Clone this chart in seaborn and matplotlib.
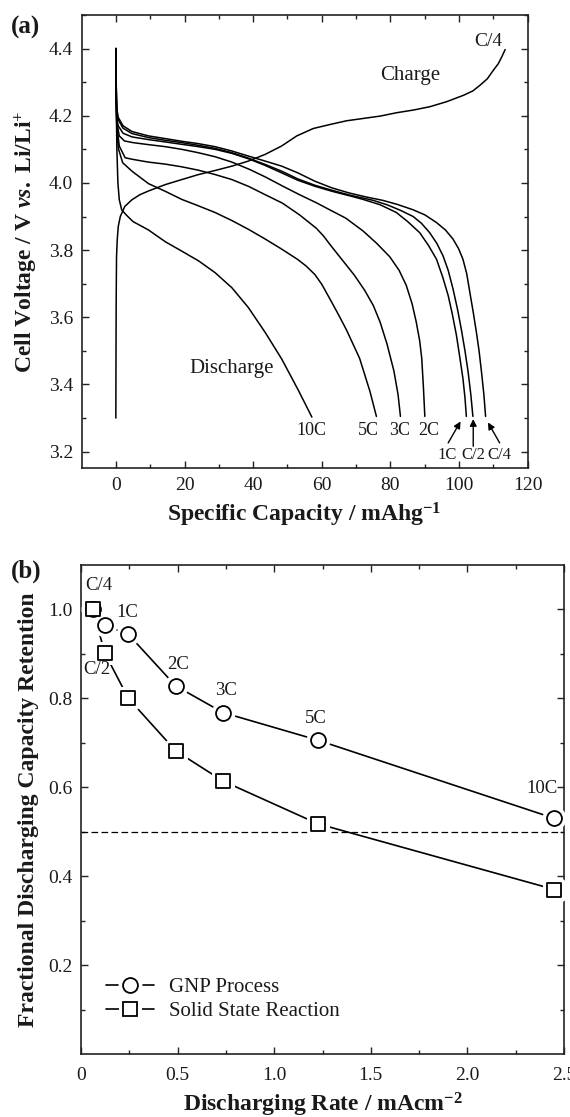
import numpy as np
import pandas as pd
import matplotlib
matplotlib.use("Agg")
import matplotlib.pyplot as plt
from matplotlib.lines import Line2D
from matplotlib.legend_handler import HandlerTuple
from matplotlib.ticker import MultipleLocator, FixedLocator, FixedFormatter
import seaborn as sns

# ---- panel (a): charge / discharge curves (specific capacity, voltage) ----
charge_cap = [0, 0.05, 0.1, 0.2, 0.4, 0.7, 1.3, 2.6, 4.7, 7, 9.5, 14.4, 19.2, 24.1, 28.9,
              33.8, 38.6, 43.5, 48.3, 52.7, 57.5, 62.4, 67.2, 72.1, 77, 81.8, 86.7, 91.5,
              96.4, 101.3, 104, 106.1, 108.2, 110, 111.4, 112.4, 113.4]
charge_v = [3.3, 3.5, 3.65, 3.78, 3.83, 3.87, 3.9, 3.93, 3.95, 3.965, 3.976, 3.995, 4.01,
            4.025, 4.037, 4.05, 4.065, 4.085, 4.11, 4.14, 4.162, 4.174, 4.185, 4.192, 4.199,
            4.209, 4.217, 4.227, 4.242, 4.261, 4.274, 4.291, 4.31, 4.336, 4.355, 4.375, 4.397]

c4_cap = [0, 0.1, 0.3, 0.7, 2.1, 4.7, 9.5, 14.4, 19.2, 24, 28.9, 33.8, 38.6, 43.5, 48.3, 53,
          58, 63, 68, 73, 77.8, 82, 86.6, 90, 93.4, 96, 98.2, 99.8, 101.1, 102.2, 103.1,
          104.1, 105, 105.8, 106.5, 107.2, 107.7]
c4_v = [4.4, 4.3, 4.22, 4.195, 4.17, 4.153, 4.14, 4.132, 4.124, 4.117, 4.108, 4.095, 4.08,
        4.065, 4.05, 4.03, 4.005, 3.985, 3.97, 3.958, 3.948, 3.936, 3.92, 3.905, 3.882, 3.86,
        3.833, 3.805, 3.773, 3.73, 3.675, 3.615, 3.557, 3.5, 3.438, 3.37, 3.305]

c2_cap = [0, 0.1, 0.3, 0.7, 2.1, 4.7, 9.5, 14.4, 19.2, 24, 28.9, 33.8, 38.6, 43.5, 48.3, 53,
          58, 63, 68, 72, 75, 79, 83, 86.6, 89, 91.4, 93.5, 95.3, 96.8, 98.2, 99.5, 100.6,
          101.7, 102.6, 103.4, 104]
c2_v = [4.4, 4.29, 4.21, 4.188, 4.163, 4.147, 4.135, 4.127, 4.12, 4.112, 4.103, 4.09, 4.074,
        4.055, 4.035, 4.012, 3.993, 3.978, 3.964, 3.955, 3.948, 3.935, 3.918, 3.9, 3.88,
        3.852, 3.82, 3.783, 3.74, 3.685, 3.625, 3.566, 3.5, 3.438, 3.37, 3.305]

c1_cap = [0, 0.1, 0.3, 0.7, 2.1, 4.7, 9.5, 14.4, 19.2, 24, 28.9, 33.8, 38.6, 43.5, 48.3, 53,
          58, 63, 68, 72, 77, 81.7, 85, 88.5, 91, 93.4, 95.2, 96.8, 98, 99.2, 100.2, 101.1,
          101.7, 102.1]
c1_v = [4.4, 4.28, 4.19, 4.17, 4.148, 4.137, 4.129, 4.122, 4.115, 4.108, 4.1, 4.088, 4.072,
        4.052, 4.03, 4.008, 3.99, 3.975, 3.962, 3.951, 3.935, 3.912, 3.885, 3.852, 3.815,
        3.773, 3.72, 3.665, 3.61, 3.547, 3.48, 3.418, 3.36, 3.305]

c2c_cap = [0, 0.1, 0.3, 1, 2.5, 5, 9.5, 14.4, 19.2, 24, 28.9, 33.8, 39, 43.5, 48.7, 53.5,
           58.4, 62.3, 67, 72, 76, 79.8, 82.5, 84.6, 86.3, 87.5, 88.5, 89.1, 89.6, 90]
c2c_v = [4.4, 4.25, 4.18, 4.14, 4.125, 4.12, 4.114, 4.108, 4.1, 4.09, 4.078, 4.062, 4.04,
         4.018, 3.99, 3.965, 3.941, 3.92, 3.895, 3.857, 3.82, 3.78, 3.74, 3.695, 3.64,
         3.586, 3.53, 3.478, 3.39, 3.305]

c3c_cap = [0, 0.1, 0.3, 1, 2.7, 5, 9.5, 14.4, 19.2, 24, 28.9, 33.8, 38.6, 43.5, 48.5, 53.5,
           58.4, 60.5, 62.5, 66, 69.5, 72.5, 75, 77, 79, 81, 82.2, 82.9]
c3c_v = [4.4, 4.25, 4.17, 4.11, 4.075, 4.07, 4.062, 4.056, 4.048, 4.038, 4.025, 4.01, 3.99,
         3.965, 3.94, 3.905, 3.865, 3.842, 3.815, 3.77, 3.725, 3.68, 3.635, 3.585, 3.52,
         3.44, 3.37, 3.305]

c5c_cap = [0, 0.1, 0.3, 0.8, 2, 4.7, 9.5, 14.4, 19.2, 24, 28.9, 33.8, 38.6, 43.5, 48.3, 53,
           55.5, 58, 60, 62.5, 65, 67.2, 71, 74, 75.9]
c5c_v = [4.4, 4.25, 4.15, 4.1, 4.06, 4.035, 3.998, 3.975, 3.951, 3.932, 3.912, 3.888, 3.862,
         3.833, 3.803, 3.772, 3.752, 3.727, 3.698, 3.652, 3.605, 3.562, 3.478, 3.38, 3.305]

c10c_cap = [0, 0.1, 0.3, 0.6, 1.0, 1.7, 3, 5, 9.5, 14.4, 19.2, 24.1, 28.9, 33.8, 38.6, 43.5,
            48.3, 53.2, 57.1]
c10c_v = [4.4, 4.25, 4.1, 4.0, 3.95, 3.92, 3.905, 3.885, 3.86, 3.825, 3.797, 3.768, 3.733,
          3.688, 3.629, 3.555, 3.476, 3.382, 3.303]

# ---- panel (b): capacity retention vs discharge rate ----
rate_labels = ["C/4", "C/2", "1C", "2C", "3C", "5C", "10C"]
rates = [0.0615, 0.123, 0.245, 0.49, 0.735, 1.225, 2.45]
gnp_retention = [1.0, 0.964, 0.944, 0.828, 0.768, 0.706, 0.530]
ssr_retention = [1.0, 0.902, 0.800, 0.682, 0.614, 0.518, 0.370]

sns.set_style("ticks")
plt.rcParams["font.family"] = ["Liberation Serif", "DejaVu Serif"]
plt.rcParams["mathtext.fontset"] = "custom"
plt.rcParams["mathtext.rm"] = "Liberation Serif:bold"
plt.rcParams["mathtext.it"] = "Liberation Serif:bold:italic"
plt.rcParams["mathtext.bf"] = "Liberation Serif:bold"
plt.rcParams["mathtext.default"] = "rm"

TXT = "#1a1a1a"

curves = {"charge": (charge_cap, charge_v), "C/4": (c4_cap, c4_v), "C/2": (c2_cap, c2_v),
          "1C": (c1_cap, c1_v), "2C": (c2c_cap, c2c_v), "3C": (c3c_cap, c3c_v),
          "5C": (c5c_cap, c5c_v), "10C": (c10c_cap, c10c_v)}
df_a = pd.concat([pd.DataFrame({"capacity": c, "voltage": v, "curve": k})
                  for k, (c, v) in curves.items()], ignore_index=True)

fig = plt.figure(figsize=(5.7, 11.17), dpi=100)
ax1 = fig.add_axes([0.143, 0.5806, 0.783, 0.406])
ax2 = fig.add_axes([0.1421, 0.0564, 0.8474, 0.4378])


def style_axes(ax):
    ax.tick_params(which="both", direction="in", top=True, right=True, width=1.0,
                   colors="#222222", labelsize=14, pad=6)
    ax.tick_params(which="major", length=5)
    ax.tick_params(which="minor", length=3)
    for s in ax.spines.values():
        s.set_linewidth(1.2)
        s.set_color("#222222")
    for lab in ax.get_xticklabels() + ax.get_yticklabels():
        lab.set_color(TXT)


sns.lineplot(data=df_a, x="capacity", y="voltage", units="curve", estimator=None,
             sort=False, color="black", lw=1.1, ax=ax1, legend=False)
ax1.set_xlim(-10, 120)
ax1.set_ylim(3.15, 4.5)
ax1.xaxis.set_major_locator(FixedLocator(list(range(0, 121, 20))))
ax1.xaxis.set_minor_locator(FixedLocator(list(range(10, 120, 20))))
ax1.yaxis.set_major_locator(FixedLocator([3.2, 3.4, 3.6, 3.8, 4.0, 4.2, 4.4]))
ax1.yaxis.set_major_formatter(FixedFormatter(["3.2", "3.4", "3.6", "3.8", "4.0", "4.2", "4.4"]))
ax1.yaxis.set_minor_locator(MultipleLocator(0.1))
style_axes(ax1)
ax1.set_xlabel(r"Specific Capacity / mAhg$^{-1}$", fontsize=17, fontweight="bold",
               color=TXT, labelpad=5)
ax1.set_ylabel(r"Cell Voltage / V $\mathit{vs.}$ Li/Li$^{+}$", fontsize=17,
               fontweight="bold", color=TXT, labelpad=6)

ax1.text(108.5, 4.397, "C/4", fontsize=14, ha="center", va="bottom", color=TXT)
ax1.text(85.6, 4.321, "Charge", fontsize=15, ha="center", va="center", color=TXT)
ax1.text(33.8, 3.448, "Discharge", fontsize=15, ha="center", va="center", color=TXT)
for lab, xx in [("10C", 57.0), ("5C", 73.6), ("3C", 82.7), ("2C", 91.1)]:
    ax1.text(xx, 3.262, lab, fontsize=13, ha="center", va="center", color=TXT)
for lab, tail, head, tx in [("1C", (96.8, 3.226), (100.4, 3.29), 96.5),
                            ("C/2", (104.1, 3.216), (104.1, 3.297), 104.1),
                            ("C/4", (111.8, 3.226), (108.4, 3.287), 111.6)]:
    ax1.annotate("", xy=head, xytext=tail,
                 arrowprops=dict(arrowstyle="-|>", color="black", lw=1.0,
                                 mutation_scale=10, shrinkA=0, shrinkB=0))
    ax1.text(tx, 3.19, lab, fontsize=12, ha="center", va="center", color=TXT)

# ---- panel (b) ----
df_b = pd.DataFrame({"rate": rates * 2,
                     "retention": gnp_retention + ssr_retention,
                     "process": ["GNP Process"] * 7 + ["Solid State Reaction"] * 7})
ax2.axhline(0.5, color="black", lw=0.9, ls=(0, (5.3, 2.7)), zorder=1)
sns.lineplot(data=df_b, x="rate", y="retention", units="process", estimator=None,
             sort=False, color="black", lw=1.2, ax=ax2, legend=False, zorder=2)
marker_of = {"GNP Process": ("o", 115), "Solid State Reaction": ("s", 100)}
# white halos first so the connecting lines stop short of the markers
for proc, (mk, sz) in marker_of.items():
    sub = df_b[df_b["process"] == proc]
    sns.scatterplot(data=sub, x="rate", y="retention", marker=mk, s=sz, color="white",
                    edgecolor="white", linewidth=6.5, ax=ax2, legend=False, zorder=3)
for proc, (mk, sz) in marker_of.items():
    sub = df_b[df_b["process"] == proc]
    sns.scatterplot(data=sub, x="rate", y="retention", marker=mk, s=sz, color="white",
                    edgecolor="black", linewidth=1.3, ax=ax2, legend=False, zorder=4)

ax2.set_xlim(0, 2.5)
ax2.set_ylim(0, 1.1)
ax2.xaxis.set_major_locator(FixedLocator([0, 0.5, 1.0, 1.5, 2.0, 2.5]))
ax2.xaxis.set_major_formatter(FixedFormatter(["0", "0.5", "1.0", "1.5", "2.0", "2.5"]))
ax2.xaxis.set_minor_locator(MultipleLocator(0.25))
ax2.yaxis.set_major_locator(FixedLocator([0.2, 0.4, 0.6, 0.8, 1.0]))
ax2.yaxis.set_major_formatter(FixedFormatter(["0.2", "0.4", "0.6", "0.8", "1.0"]))
ax2.yaxis.set_minor_locator(FixedLocator([0.1, 0.3, 0.5, 0.7, 0.9]))
style_axes(ax2)
ax2.tick_params(axis="x", which="both", pad=9)
ax2.set_xlabel(r"Discharging Rate / mAcm$^{-2}$", fontsize=17, fontweight="bold",
               color=TXT, labelpad=5)
ax2.set_ylabel("Fractional Discharging Capacity Retention", fontsize=17,
               fontweight="bold", color=TXT, labelpad=7)

label_pos = {"C/4": (0.09, 1.053), "C/2": (0.081, 0.865), "1C": (0.24, 0.992),
             "2C": (0.503, 0.876), "3C": (0.748, 0.818), "5C": (1.214, 0.755),
             "10C": (2.385, 0.597)}
for lab in rate_labels:
    x, y = label_pos[lab]
    ax2.text(x, y, lab, fontsize=13.5, ha="center", va="center", color=TXT)


def legend_handle(mk, ms):
    return (Line2D([], [], color="black", lw=1.2),
            Line2D([], [], marker=mk, ms=ms, mfc="white", mec="white", mew=6.5, ls=""),
            Line2D([], [], marker=mk, ms=ms, mfc="white", mec="black", mew=1.3, ls=""))


leg = ax2.legend([legend_handle("o", 10.7), legend_handle("s", 10.0)],
                 ["GNP Process", "Solid State Reaction"],
                 handler_map={tuple: HandlerTuple(ndivide=1, pad=0)},
                 loc="lower left", bbox_to_anchor=(0.035, 0.05), frameon=False,
                 fontsize=15, handlelength=2.3, handletextpad=0.7, labelspacing=0.22,
                 borderaxespad=0)
for t in leg.get_texts():
    t.set_color(TXT)

fig.text(0.019, 1 - 16 / 1117, "(a)", fontsize=18, fontweight="bold", ha="left",
         va="top", color=TXT)
fig.text(0.019, 1 - 560 / 1117, "(b)", fontsize=18, fontweight="bold", ha="left",
         va="top", color=TXT)

fig.savefig("out.png", dpi=100, facecolor="white")
